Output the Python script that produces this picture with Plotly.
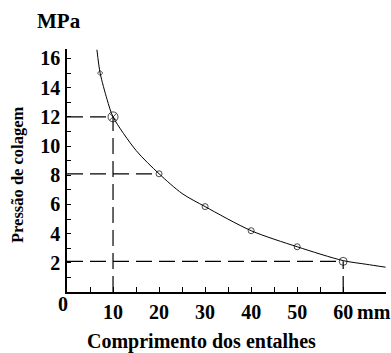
import plotly.graph_objects as go

# Curve (smooth line)
curve_x = [6.5, 7.2, 8.7, 10, 15, 20, 25, 30, 40, 50, 60, 65, 69.2]
curve_y = [16.6, 15.0, 13.2, 12.0, 9.7, 8.1, 6.75, 5.85, 4.2, 3.1, 2.15, 1.9, 1.7]

# Marked measurement points
pts_x = [7.2, 10, 20, 30, 40, 50, 60]
pts_y = [15.0, 12.0, 8.1, 5.85, 4.2, 3.1, 2.1]

# Reading guides (dashed)
guide_x = [10, 20, 60]
guide_y = [12.0, 8.1, 2.1]
guide_vertical = [True, False, True]

y_tickvals = list(range(1, 17))
y_ticktext = [str(v) if v % 2 == 0 else "" for v in y_tickvals]
x_tickvals = [5, 10, 15, 20, 25, 30, 35, 40, 45, 50, 55, 60]
x_ticktext = [str(v) if v % 10 == 0 else "" for v in x_tickvals]

FONT = "Liberation Serif"
W, H = 391, 353
L, R, T, B = 67, 5, 49, 61
PW, PH = W - L - R, H - T - B


def px(x):
    return (x - L) / PW


def py(y):
    return (H - B - y) / PH


fig = go.Figure()
fig.add_trace(go.Scatter(x=curve_x, y=curve_y, mode="lines",
                         line=dict(color="black", width=1, shape="spline", smoothing=0.8),
                         hoverinfo="skip", showlegend=False))
sizes = [4, 10, 6, 6, 6, 6, 8]
symbols = ["diamond-open", "circle-x-open", "circle-open", "circle-open",
           "circle-open", "circle-open", "circle-open"]
fig.add_trace(go.Scatter(x=pts_x, y=pts_y, mode="markers",
                         marker=dict(color="black", size=sizes, symbol=symbols,
                                     line=dict(width=1, color="black")),
                         showlegend=False))

dash = "16px,7px"
for gx, gy, vert in zip(guide_x, guide_y, guide_vertical):
    fig.add_shape(type="line", x0=0, x1=gx, y0=gy, y1=gy, xref="x", yref="y",
                  line=dict(color="black", width=1.2, dash=dash), layer="below")
    if vert:
        fig.add_shape(type="line", x0=gx, x1=gx, y0=0, y1=gy, xref="x", yref="y",
                      line=dict(color="black", width=1.2, dash=dash), layer="below")

fig.update_layout(
    width=W, height=H,
    margin=dict(l=L, r=R, t=T, b=B, autoexpand=False),
    paper_bgcolor="white", plot_bgcolor="white",
    font=dict(family=FONT, color="black", size=18),
    xaxis=dict(range=[0, 69.3], showgrid=False, zeroline=False, automargin=False,
               showline=True, linecolor="black", linewidth=1.5,
               ticks="inside", ticklen=5, tickcolor="black", tickwidth=1,
               tickvals=x_tickvals, ticktext=x_ticktext,
               tickfont=dict(family=FONT, size=20, color="black", weight="bold"),
               ticklabelstandoff=1),
    yaxis=dict(range=[0, 16.65], showgrid=False, zeroline=False, automargin=False,
               showline=True, linecolor="black", linewidth=1.5,
               ticks="inside", ticklen=4, tickcolor="black", tickwidth=1,
               tickvals=y_tickvals, ticktext=y_ticktext,
               tickfont=dict(family=FONT, size=20, color="black", weight="bold"),
               ticklabelstandoff=1),
    annotations=[
        dict(text="<b>MPa</b>", x=px(59), y=py(21), xref="paper", yref="paper",
             xanchor="center", yanchor="middle",
             showarrow=False, font=dict(family=FONT, size=21)),
        dict(text="<b>0</b>", x=px(63), y=py(304), xref="paper", yref="paper",
             xanchor="center", yanchor="middle",
             showarrow=False, font=dict(family=FONT, size=20)),
        dict(text="<b>mm</b>", x=px(374), y=py(312), xref="paper", yref="paper",
             xanchor="center", yanchor="middle",
             showarrow=False, font=dict(family=FONT, size=20)),
        dict(text="<b>Pressão de colagem</b>", x=px(17), y=py(174),
             xref="paper", yref="paper", xanchor="center", yanchor="middle",
             textangle=-90, showarrow=False, font=dict(family=FONT, size=16.5)),
        dict(text="<b>Comprimento dos entalhes</b>", x=px(201), y=py(341),
             xref="paper", yref="paper", xanchor="center", yanchor="middle",
             showarrow=False, font=dict(family=FONT, size=20)),
    ],
)
fig.write_html("out.html", post_script="document.body.style.margin='0';",
               config={"displayModeBar": False})
